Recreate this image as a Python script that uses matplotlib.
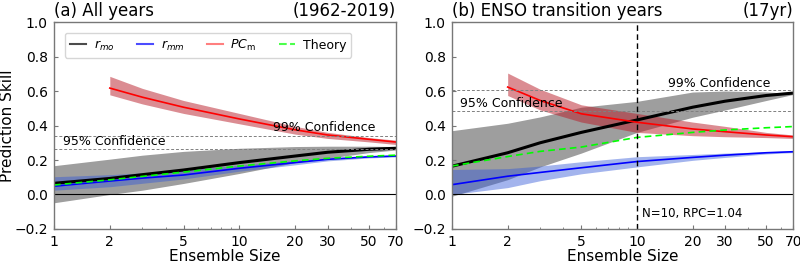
import numpy as np
import matplotlib
matplotlib.use('Agg')
import matplotlib.pyplot as plt
from matplotlib.lines import Line2D
from matplotlib.ticker import FixedLocator, FixedFormatter

# ensemble sizes where values were read
ens = [1, 2, 3, 5, 10, 20, 30, 50, 70]
ens_pc = [2, 3, 5, 10, 20, 30, 50, 70]

# (a) all years
a_rmo = [0.065, 0.093, 0.115, 0.142, 0.185, 0.223, 0.245, 0.262, 0.268]
a_rmo_hi = [0.167, 0.205, 0.228, 0.250, 0.268, 0.278, 0.280, 0.280, 0.278]
a_rmo_lo = [-0.048, 0.0, 0.025, 0.064, 0.122, 0.185, 0.210, 0.243, 0.258]
a_rmm = [0.048, 0.078, 0.095, 0.113, 0.152, 0.185, 0.204, 0.218, 0.223]
a_rmm_hi = [0.103, 0.115, 0.125, 0.140, 0.170, 0.197, 0.212, 0.224, 0.228]
a_rmm_lo = [0.025, 0.045, 0.065, 0.090, 0.135, 0.172, 0.195, 0.212, 0.218]
a_theory = [0.055, 0.085, 0.105, 0.130, 0.165, 0.195, 0.210, 0.222, 0.228]
a_pc = [0.617, 0.564, 0.506, 0.438, 0.375, 0.345, 0.320, 0.304]
a_pc_hi = [0.685, 0.615, 0.545, 0.470, 0.395, 0.360, 0.330, 0.315]
a_pc_lo = [0.578, 0.525, 0.470, 0.410, 0.350, 0.325, 0.305, 0.290]
a_c95, a_c99 = 0.263, 0.337

# (b) ENSO transition years
b_rmo = [0.164, 0.242, 0.300, 0.360, 0.432, 0.506, 0.541, 0.574, 0.588]
b_rmo_hi = [0.370, 0.413, 0.450, 0.506, 0.540, 0.594, 0.600, 0.595, 0.585]
b_rmo_lo = [-0.010, 0.086, 0.160, 0.240, 0.360, 0.448, 0.490, 0.545, 0.580]
b_rmm = [0.057, 0.106, 0.128, 0.155, 0.191, 0.215, 0.228, 0.242, 0.248]
b_rmm_hi = [0.145, 0.150, 0.165, 0.190, 0.219, 0.232, 0.240, 0.248, 0.252]
b_rmm_lo = [0.0, 0.040, 0.080, 0.120, 0.160, 0.198, 0.215, 0.235, 0.243]
b_theory = [0.165, 0.220, 0.250, 0.275, 0.331, 0.360, 0.374, 0.387, 0.394]
b_pc = [0.623, 0.545, 0.468, 0.419, 0.380, 0.364, 0.345, 0.335]
b_pc_hi = [0.704, 0.610, 0.520, 0.470, 0.420, 0.395, 0.360, 0.345]
b_pc_lo = [0.574, 0.490, 0.420, 0.360, 0.341, 0.335, 0.330, 0.325]
b_c95, b_c99 = 0.482, 0.606

xticks = [1, 2, 5, 10, 20, 30, 50, 70]

fig = plt.figure(figsize=(8, 2.64), dpi=100)
ax1 = fig.add_axes([0.0675, 0.1326, 0.4275, 0.784])
ax2 = fig.add_axes([0.565, 0.1326, 0.4265, 0.784])


def draw(ax, rmo, rmo_hi, rmo_lo, rmm, rmm_hi, rmm_lo, theory, pc, pc_hi, pc_lo, c95, c99):
    ax.fill_between(ens, rmo_lo, rmo_hi, color='k', alpha=0.38, lw=0)
    ax.fill_between(ens, rmm_lo, rmm_hi, color=(0.2, 0.35, 0.85), alpha=0.45, lw=0)
    ax.fill_between(ens_pc, pc_lo, pc_hi, color=(0.72, 0.1, 0.15), alpha=0.5, lw=0)
    ax.plot(ens, rmo, color='k', lw=2.2)
    ax.plot(ens, rmm, color='b', lw=1.2)
    ax.plot(ens_pc, pc, color='r', lw=1.2)
    ax.plot(ens, theory, color='lime', lw=1.2, ls='--', dashes=(4, 2.5))
    ax.axhline(0, color='k', lw=0.8)
    ax.axhline(c95, color='gray', lw=0.7, ls='--', dashes=(3, 2))
    ax.axhline(c99, color='gray', lw=0.7, ls='--', dashes=(3, 2))
    ax.set_xscale('log')
    ax.set_xlim(1, 70)
    ax.set_ylim(-0.2, 1.0)
    ax.set_yticks(np.arange(-0.2, 1.01, 0.2))
    ax.xaxis.set_major_locator(FixedLocator(xticks))
    ax.xaxis.set_major_formatter(FixedFormatter([str(t) for t in xticks]))
    for sp in ax.spines.values():
        sp.set_color('#777777')
        sp.set_linewidth(1.0)
    ax.tick_params(which='major', labelsize=10, direction='in', length=3,
                   pad=4.5, color='#777777')
    ax.tick_params(which='minor', direction='in', length=1.5, color='#777777')
    ax.set_xlabel('Ensemble Size', fontsize=11, labelpad=-0.5)


draw(ax1, a_rmo, a_rmo_hi, a_rmo_lo, a_rmm, a_rmm_hi, a_rmm_lo, a_theory,
     a_pc, a_pc_hi, a_pc_lo, a_c95, a_c99)
draw(ax2, b_rmo, b_rmo_hi, b_rmo_lo, b_rmm, b_rmm_hi, b_rmm_lo, b_theory,
     b_pc, b_pc_hi, b_pc_lo, b_c95, b_c99)

ax1.set_ylabel('Prediction Skill', fontsize=11)
ax1.yaxis.set_label_coords(-0.115, 0.5)
ax1.set_title('(a) All years', loc='left', fontsize=12, pad=4)
ax1.set_title('(1962-2019)', loc='right', fontsize=12, pad=4)
ax2.set_title('(b) ENSO transition years', loc='left', fontsize=12, pad=4)
ax2.set_title('(17yr)', loc='right', fontsize=12, pad=4)

ax1.text(1.12, a_c95 + 0.008, '95% Confidence', fontsize=9, va='bottom')
ax1.text(15.2, a_c99 + 0.012, '99% Confidence', fontsize=9, va='bottom')
ax2.text(1.1, b_c95 + 0.006, '95% Confidence', fontsize=9, va='bottom')
ax2.text(14.8, b_c99 + 0.002, '99% Confidence', fontsize=9, va='bottom')

ax2.axvline(10, color='k', lw=1, ls='--', dashes=(4, 2.5))
ax2.text(10.7, -0.11, 'N=10, RPC=1.04', fontsize=8.5, va='center')

handles = [
    Line2D([], [], color='k', lw=1.5, alpha=0.7),
    Line2D([], [], color='b', lw=1.5, alpha=0.7),
    Line2D([], [], color='r', lw=1.5, alpha=0.5),
    Line2D([], [], color='lime', lw=1.5, ls='--', alpha=0.7),
]
ax1.legend(handles, [r'$r_{mo}$', r'$r_{mm}$', r'$PC_{\rm m}$', 'Theory'],
           loc='upper left', ncol=4, fontsize=9, handlelength=1.3,
           columnspacing=1.8, handletextpad=0.6, borderaxespad=0.6,
           bbox_to_anchor=(0.01, 0.985))

fig.savefig('out.png', dpi=100)
